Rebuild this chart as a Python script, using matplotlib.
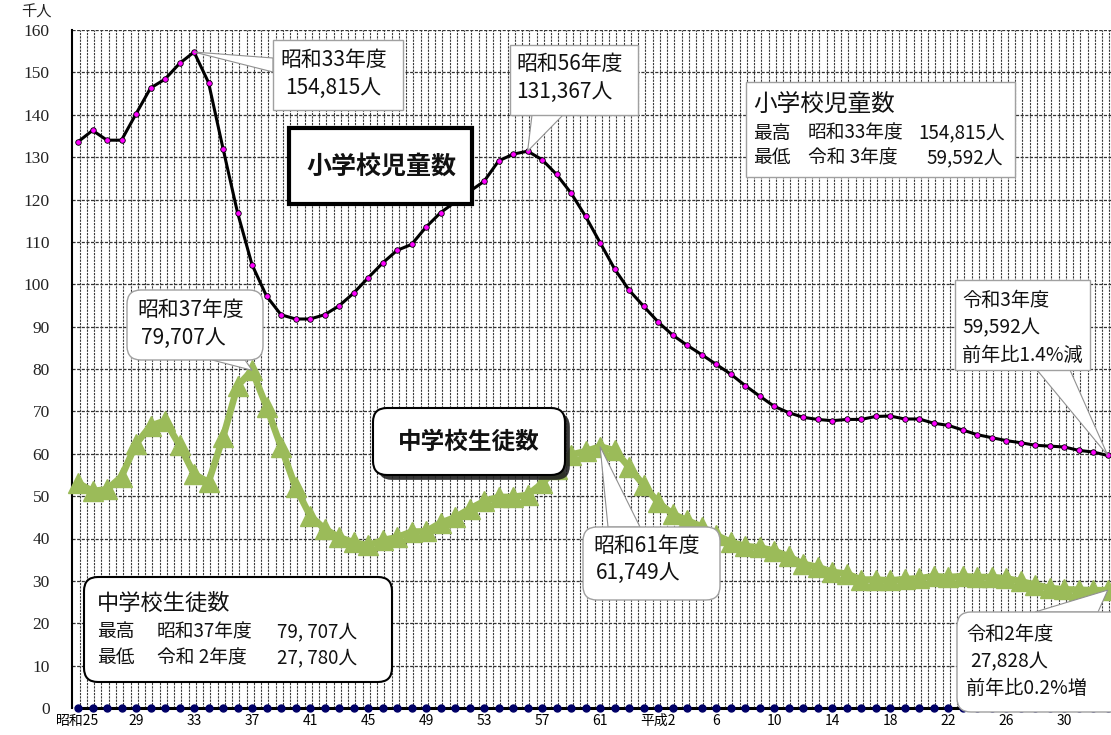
import matplotlib
matplotlib.use("Agg")
import matplotlib.pyplot as plt
import matplotlib.patheffects as pe
from matplotlib.patches import FancyBboxPatch, Polygon
from matplotlib.transforms import IdentityTransform
import numpy as np

plt.rcParams['font.family'] = ['Noto Sans CJK JP', 'DejaVu Sans']

# 昭和25年度(1950) .. 令和3年度(2021), 単位: 千人
years = list(range(1950, 2022))
elementary = [133.6, 136.3, 134.0, 134.0, 140.2, 146.3, 148.4, 152.1, 154.8, 147.6,
              132.0, 116.9, 104.6, 97.2, 92.8, 91.8, 91.8, 92.8, 94.9, 97.9,
              101.5, 105.0, 108.0, 109.4, 113.5, 116.9, 119.4, 121.9, 124.3, 129.1,
              130.7, 131.4, 129.4, 125.9, 121.5, 116.0, 109.8, 103.6, 98.6, 94.8,
              91.1, 88.0, 85.6, 83.4, 81.1, 78.8, 76.1, 73.6, 71.2, 69.7,
              68.6, 68.1, 67.8, 68.1, 68.1, 68.8, 68.9, 68.2, 68.2, 67.2,
              66.7, 65.6, 64.5, 63.8, 63.1, 62.6, 62.0, 61.8, 61.6, 60.8,
              60.4, 59.6]
junior = [53.1, 51.2, 51.6, 54.6, 62.3, 66.6, 67.8, 62.0, 55.2, 53.3,
          63.9, 76.0, 79.7, 71.1, 61.6, 52.1, 45.4, 42.3, 40.3, 39.1,
          38.4, 39.6, 40.3, 41.6, 41.7, 43.7, 45.0, 47.0, 48.8, 49.8,
          49.8, 50.3, 53.0, 56.5, 59.8, 60.6, 61.7, 60.8, 56.8, 52.6,
          48.5, 45.8, 44.3, 42.8, 40.8, 39.2, 38.2, 37.9, 37.1, 35.8,
          34.0, 33.3, 32.1, 31.7, 30.3, 30.3, 30.1, 30.4, 30.6, 31.1,
          30.9, 31.1, 30.9, 30.9, 30.6, 29.9, 29.1, 28.3, 28.0, 27.9,
          27.78, 27.83]
baseline = [0] * len(years)
tick_labels = ['昭和25', '29', '33', '37', '41', '45', '49', '53', '57', '61',
               '平成2', '6', '10', '14', '18', '22', '26', '30']

W, H = 1111, 735
x = np.arange(len(years))

fig = plt.figure(figsize=(W / 100, H / 100), dpi=100)
ax = fig.add_axes([72 / W, 27 / H, 1043 / W, 678 / H])
ax.set_xlim(-0.414, 71.5)
ax.set_ylim(0, 160)

ax.set_yticks(range(0, 161, 10))
ax.set_yticklabels([str(v) for v in range(0, 161, 10)], family='Liberation Serif', fontsize=12.5, color='#222')
ax.set_xticks(x[::4])
ax.set_xticklabels(tick_labels, fontsize=10)
ax.set_xticks(np.arange(0.12, 71.6, 0.5), minor=True)
ax.tick_params(axis='both', which='both', length=0)
ax.tick_params(axis='y', pad=16)
ax.tick_params(axis='x', pad=4)
ax.yaxis.grid(True, ls=(0, (2.5, 1.2)), color='#333', lw=0.9)
ax.xaxis.grid(True, which='minor', ls=(0, (2.0, 1.0)), color='#3a3a3a', lw=0.8)
ax.xaxis.grid(False, which='major')
for s in ['top', 'right', 'bottom']:
    ax.spines[s].set_visible(False)
ax.spines['left'].set_linewidth(1.5)

ax.plot(x, baseline, color='black', lw=2.2, marker='o', ms=5, mfc='#000066', mec='#000066',
        clip_on=False, zorder=5)
ax.plot(x, junior, color='#9BBB59', lw=4.8, marker='^', ms=14, clip_on=False, zorder=3)
ax.plot(x, elementary, color='black', lw=2.2, marker='o', ms=4, mfc='#FF00FF', mec='black',
        mew=0.6, zorder=4)

fig.text(36 / W, 1 - 12 / H, '千人', fontsize=11, ha='center', va='center', color='#222')

ident = IdentityTransform()


def box(x0, y0, x1, y1, rounded=False, ec='#a0a0a0', lw=1.0, shadow=False):
    style = 'round,pad=0,rounding_size=14' if rounded else 'square,pad=0'
    p = FancyBboxPatch((x0, H - y1), x1 - x0, y1 - y0, boxstyle=style, fc='white', ec=ec, lw=lw,
                       transform=ident, zorder=6)
    if shadow:
        p.set_path_effects([pe.SimplePatchShadow(offset=(3.5, -3.5), shadow_rgbFace='#222', alpha=0.9),
                            pe.Normal()])
    fig.add_artist(p)


def wedge(b1, b2, i, v):
    tx, ty = ax.transData.transform((i, v))
    poly = Polygon([(b1[0], H - b1[1]), (b2[0], H - b2[1]), (tx, ty)], closed=True, fc='white',
                   ec='#909090', lw=0.8, transform=ident, zorder=5.5)
    fig.add_artist(poly)


def label(px, py, s, size=15, ha='left', weight='normal'):
    fig.text(px / W, 1 - py / H, s, fontsize=size, ha=ha, va='center', weight=weight, color='#111',
             zorder=7)


# 昭和33年度 peak
wedge((273, 58), (273, 72), 8, elementary[8])
box(273, 40, 403, 110)
label(280, 60, '昭和33年度')
label(285, 88, '154,815人')

# 小学校児童数 title
box(289, 128, 472, 204, ec='black', lw=3)
label(381, 167, '小学校児童数', size=18, ha='center', weight='bold')

# 昭和56年度 peak
wedge((532, 115), (563, 115), 31, elementary[31])
box(510, 45, 638, 115)
label(516, 64, '昭和56年度')
label(516, 92, '131,367人')

# 小学校 summary
box(746, 82, 1015, 177)
label(753, 104, '小学校児童数', size=17)
label(753, 133, '最高', size=13.5)
label(808, 133, '昭和33年度', size=13.5)
label(1005, 133, '154,815人', size=13.5, ha='right')
label(753, 158, '最低', size=13.5)
label(808, 158, '令和 3年度', size=13.5)
label(1003, 158, '59,592人', size=13.5, ha='right')

# 令和3年度
wedge((1037, 370), (1070, 370), 71, elementary[71])
box(955, 280, 1090, 370)
label(962, 300, '令和3年度', size=13.8)
label(962, 328, '59,592人', size=13.8)
label(962, 355, '前年比1.4%減', size=13.8)

# 昭和37年度 peak (junior)
wedge((212, 360), (245, 360), 12, junior[12])
box(127, 290, 263, 360, rounded=True)
label(137, 310, '昭和37年度')
label(141, 338, '79,707人')

# 中学校生徒数 title
box(373, 408, 565, 475, rounded=True, ec='black', lw=1.5, shadow=True)
label(469, 442, '中学校生徒数', size=17, ha='center', weight='bold')

# 昭和61年度 peak (junior)
wedge((608, 527), (640, 527), 36, junior[36])
box(583, 527, 720, 600, rounded=True)
label(593, 546, '昭和61年度')
label(596, 573, '61,749人')

# 中学校 summary
box(84, 577, 392, 682, rounded=True, ec='black', lw=1.5)
label(97, 603, '中学校生徒数', size=16)
label(97, 632, '最高', size=13.5)
label(157, 632, '昭和37年度', size=13.5)
label(357, 632, '79, 707人', size=13.5, ha='right')
label(97, 658, '最低', size=13.5)
label(157, 658, '令和 2年度', size=13.5)
label(357, 658, '27, 780人', size=13.5, ha='right')

# 令和2年度 (junior)
wedge((1035, 612), (1098, 612), 71, junior[71])
box(957, 612, 1125, 712, rounded=True)
label(966, 634, '令和2年度', size=13.8)
label(970, 662, '27,828人', size=13.8)
label(966, 688, '前年比0.2%増', size=13.8)

fig.savefig('out.png', dpi=100)
